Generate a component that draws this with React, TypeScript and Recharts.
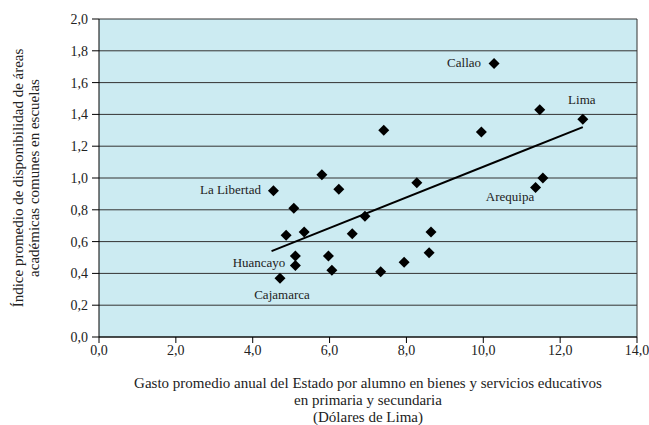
import React from "react";
import {
  ScatterChart, Scatter, XAxis, YAxis, CartesianGrid, ReferenceLine, Label,
} from "recharts";

// gasto promedio por alumno (dólares de Lima)
const gasto = [
  10.28, 11.47, 12.59, 7.41, 9.95, 5.8, 6.24, 4.54, 8.27, 11.55, 11.36, 5.07, 6.92,
  4.87, 5.34, 6.59, 8.64, 8.59, 7.94, 7.33, 5.11, 5.11, 5.97, 6.06, 4.71,
];
// índice de disponibilidad de áreas académicas comunes
const indice = [
  1.72, 1.43, 1.37, 1.3, 1.29, 1.02, 0.93, 0.92, 0.97, 1.0, 0.94, 0.81, 0.76,
  0.64, 0.66, 0.65, 0.66, 0.53, 0.47, 0.41, 0.51, 0.45, 0.51, 0.42, 0.37,
];
const nombres = [
  "Callao", "", "Lima", "", "", "", "", "La Libertad", "", "", "Arequipa", "", "",
  "", "", "", "", "", "", "", "", "Huancayo", "", "", "Cajamarca",
];
const tendenciaX = [4.49, 12.59];
const tendenciaY = [0.54, 1.32];
const xTicks = [0, 2, 4, 6, 8, 10, 12, 14];
const yTicks = [0, 0.2, 0.4, 0.6, 0.8, 1.0, 1.2, 1.4, 1.6, 1.8, 2.0];

const puntos = gasto.map((x, i) => ({ x, y: indice[i], name: nombres[i] }));
const tendencia = tendenciaX.map((x, i) => ({ x, y: tendenciaY[i] }));

const FONT = "'Liberation Serif', 'Times New Roman', serif";
const TEXT = "#222";
const fmt = (v: number) => v.toFixed(1).replace(".", ",");

const labelPos: Record<string, { dx: number; dy: number; anchor: "start" | "middle" | "end" }> = {
  Callao: { dx: -13, dy: -1.5, anchor: "end" },
  Lima: { dx: -1, dy: -20, anchor: "middle" },
  "La Libertad": { dx: -12.5, dy: -1, anchor: "end" },
  Arequipa: { dx: -25.5, dy: 9, anchor: "middle" },
  Huancayo: { dx: -10, dy: -2.7, anchor: "end" },
  Cajamarca: { dx: 2, dy: 16.5, anchor: "middle" },
};

function Diamond(props: any) {
  const { cx, cy, payload } = props;
  const r = 5.5;
  const pos = payload?.name ? labelPos[payload.name] : null;
  return (
    <g>
      <path d={`M${cx},${cy - r}L${cx + r},${cy}L${cx},${cy + r}L${cx - r},${cy}Z`} fill="#000" />
      {pos && (
        <text
          x={cx + pos.dx}
          y={cy + pos.dy}
          dy="0.35em"
          textAnchor={pos.anchor}
          fontFamily={FONT}
          fontSize={13}
          fill={TEXT}
        >
          {payload.name}
        </text>
      )}
    </g>
  );
}

function YTitle(props: any) {
  const { x, y, height } = props.viewBox;
  const cy = y + height / 2;
  const lines = [
    { t: "Índice promedio de disponibilidad de áreas", cx: x + 18 },
    { t: "académicas comunes en escuelas", cx: x + 34 },
  ];
  return (
    <g>
      {lines.map((l) => (
        <text
          key={l.t}
          x={l.cx}
          y={cy}
          dy="0.35em"
          transform={`rotate(-90 ${l.cx} ${cy})`}
          textAnchor="middle"
          fontFamily={FONT}
          fontSize={15}
          fill={TEXT}
        >
          {l.t}
        </text>
      ))}
    </g>
  );
}

function XTitle(props: any) {
  const { x, y, width } = props.viewBox;
  const cx = x + width / 2;
  const lines = [
    "Gasto promedio anual del Estado por alumno en bienes y servicios educativos",
    "en primaria y secundaria",
    "(Dólares de Lima)",
  ];
  return (
    <g>
      {lines.map((t, i) => (
        <text
          key={t}
          x={cx}
          y={y + 46 + i * 17}
          dy="0.35em"
          textAnchor="middle"
          fontFamily={FONT}
          fontSize={15}
          fill={TEXT}
        >
          {t}
        </text>
      ))}
    </g>
  );
}

export default function App() {
  const tick = { fontFamily: FONT, fontSize: 14, fill: TEXT };
  return (
    <div style={{ position: "absolute", top: 0, left: 0, background: "#fff" }}>
      <ScatterChart width={649} height={425} margin={{ top: 19, right: 12, bottom: 0, left: 0 }}>
        <CartesianGrid vertical={false} stroke="#333" fill="#CCEBF2" fillOpacity={1} />
        <XAxis
          type="number"
          dataKey="x"
          domain={[0, 14]}
          ticks={xTicks}
          tickFormatter={fmt}
          tick={tick}
          tickSize={6}
          stroke="#000"
          height={88}
          interval={0}
        >
          <Label content={(p: any) => <XTitle {...p} />} />
        </XAxis>
        <YAxis
          type="number"
          dataKey="y"
          domain={[0, 2]}
          ticks={yTicks}
          tickFormatter={fmt}
          tick={tick}
          tickSize={7}
          tickMargin={4}
          stroke="#000"
          width={99}
          interval={0}
        >
          <Label content={(p: any) => <YTitle {...p} />} />
        </YAxis>
        <ReferenceLine x={14} stroke="#333" />
        <Scatter
          data={tendencia}
          line={{ stroke: "#000", strokeWidth: 2 }}
          shape={() => <g />}
          isAnimationActive={false}
        />
        <Scatter data={puntos} shape={<Diamond />} isAnimationActive={false} />
      </ScatterChart>
    </div>
  );
}
